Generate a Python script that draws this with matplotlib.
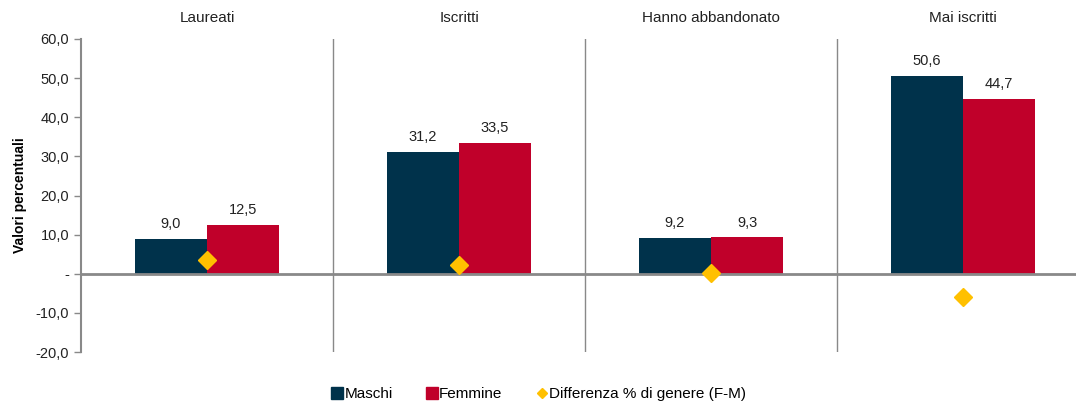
import matplotlib.pyplot as plt
from matplotlib.lines import Line2D

categorie = ["Laureati", "Iscritti", "Hanno abbandonato", "Mai iscritti"]
maschi = [9.0, 31.2, 9.2, 50.6]
femmine = [12.5, 33.5, 9.3, 44.7]
differenza = [3.5, 2.3, 0.1, -5.9]
yticks = [-20, -10, 0, 10, 20, 30, 40, 50, 60]

col_m = "#00324B"
col_f = "#C0002A"
col_d = "#FFC000"
grigio = "#898989"

plt.rcParams["font.family"] = ["Liberation Sans", "DejaVu Sans"]

fig = plt.figure(figsize=(10.76, 4.01), dpi=100)
ax = fig.add_axes([81 / 1076, 1 - 352 / 401, 1008 / 1076, 313 / 401])

w = 0.286
x = list(range(len(categorie)))
ax.bar([i - w / 2 for i in x], maschi, width=w, color=col_m, label="Maschi")
ax.bar([i + w / 2 for i in x], femmine, width=w, color=col_f, label="Femmine")
ax.plot(x, differenza, linestyle="none", marker="D", markersize=9, color=col_d, zorder=5)

for i in x:
    ax.text(i - w / 2, maschi[i] + 3.7, f"{maschi[i]:.1f}".replace(".", ","), ha="center", va="center", fontsize=10.5, color="#222222")
    ax.text(i + w / 2, femmine[i] + 3.7, f"{femmine[i]:.1f}".replace(".", ","), ha="center", va="center", fontsize=10.5, color="#222222")
    ax.text(i, 65.3, categorie[i], ha="center", va="center", fontsize=11, color="#222222")

for b in [0.5, 1.5, 2.5]:
    ax.axvline(b, color=grigio, linewidth=1)
ax.axhline(0, color=grigio, linewidth=2, zorder=4)

ax.set_xlim(-0.5, 3.5)
ax.set_ylim(-20, 60)
ax.set_yticks(yticks)
ax.set_yticklabels(["-" if v == 0 else f"{v:.1f}".replace(".", ",") for v in yticks], fontsize=10.5, color="#222222")
ax.set_xticks([])
for s in ["top", "right", "bottom"]:
    ax.spines[s].set_visible(False)
ax.spines["left"].set_color(grigio)
ax.spines["left"].set_linewidth(1.5)
ax.tick_params(axis="y", color=grigio, length=5, width=1)
ax.set_ylabel("Valori percentuali", fontsize=10, fontweight="bold", labelpad=6)

handles = [
    Line2D([], [], linestyle="none", marker="s", markersize=8, color=col_m),
    Line2D([], [], linestyle="none", marker="s", markersize=8, color=col_f),
    Line2D([], [], linestyle="none", marker="D", markersize=5, color=col_d),
]
fig.legend(handles, ["Maschi", "Femmine", "Differenza % di genere (F-M)"], loc="lower center",
           bbox_to_anchor=(0.5, -0.035), ncol=3, frameon=False, fontsize=11,
           handletextpad=0.05, columnspacing=2.1, handlelength=0.9)

fig.savefig("out.png", dpi=100)
